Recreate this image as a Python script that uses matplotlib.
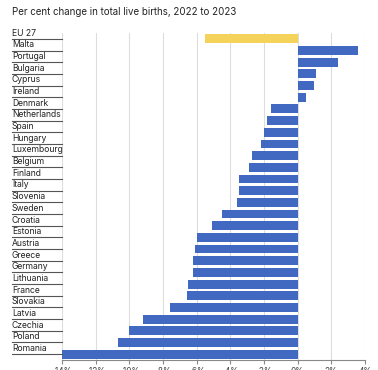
import numpy as np
import matplotlib.pyplot as plt
import matplotlib.transforms as mtransforms

plt.rcParams['font.family'] = ['Inter', 'DejaVu Sans']

paises = ['EU 27', 'Malta', 'Portugal', 'Bulgaria', 'Cyprus', 'Ireland', 'Denmark',
          'Netherlands', 'Spain', 'Hungary', 'Luxembourg', 'Belgium', 'Finland',
          'Italy', 'Slovenia', 'Sweden', 'Croatia', 'Estonia', 'Austria', 'Greece',
          'Germany', 'Lithuania', 'France', 'Slovakia', 'Latvia', 'Czechia',
          'Poland', 'Romania']
variacao = [-5.5, 3.6, 2.4, 1.1, 1.0, 0.5, -1.6,
            -1.8, -2.0, -2.2, -2.7, -2.9, -3.5,
            -3.5, -3.6, -4.5, -5.1, -6.0, -6.1, -6.2,
            -6.2, -6.5, -6.6, -7.6, -9.2, -10.0,
            -10.7, -14.0]
ticks = [-14, -12, -10, -8, -6, -4, -2, 0, 2, 4]

W, H = 378, 370
fig = plt.figure(figsize=(W / 100, H / 100), dpi=100)
ax = fig.add_axes([62 / W, 1 - 360 / H, 303 / W, 327 / H])

n = len(paises)
y = np.arange(n)
cores = ['#F5D35A'] + ['#4169C1'] * (n - 1)
ax.barh(y, variacao, height=0.76, color=cores, zorder=2)

ax.set_xlim(-14, 4)
ax.set_ylim(n - 0.5, -0.5)
ax.set_xticks(ticks)
ax.set_xticklabels([f'{t}%' for t in ticks], fontsize=6, color='#444444')
ax.set_yticks([])
ax.grid(axis='x', color='#dddddd', linewidth=0.8, zorder=0)
for s in ['top', 'right', 'left']:
    ax.spines[s].set_visible(False)
ax.spines['bottom'].set_color('#888888')
ax.tick_params(axis='x', length=3, color='#888888', pad=2)

# rótulos à esquerda com linha separadora
trans = mtransforms.blended_transform_factory(ax.transAxes, ax.transData)
x0 = (12 - 62) / 303
for i, nome in enumerate(paises):
    ax.text(x0, i - 0.1, nome, transform=trans, ha='left', va='bottom',
            fontsize=6.2, color='#222222', clip_on=False)
    ax.plot([x0, 0], [i, i], transform=trans, color='#555555', linewidth=0.8,
            clip_on=False)

fig.text(12 / W, 1 - 12 / H, 'Per cent change in total live births, 2022 to 2023',
         ha='left', va='center', fontsize=7.0, color='#222222')

fig.savefig('out.png', dpi=100, facecolor='white')
